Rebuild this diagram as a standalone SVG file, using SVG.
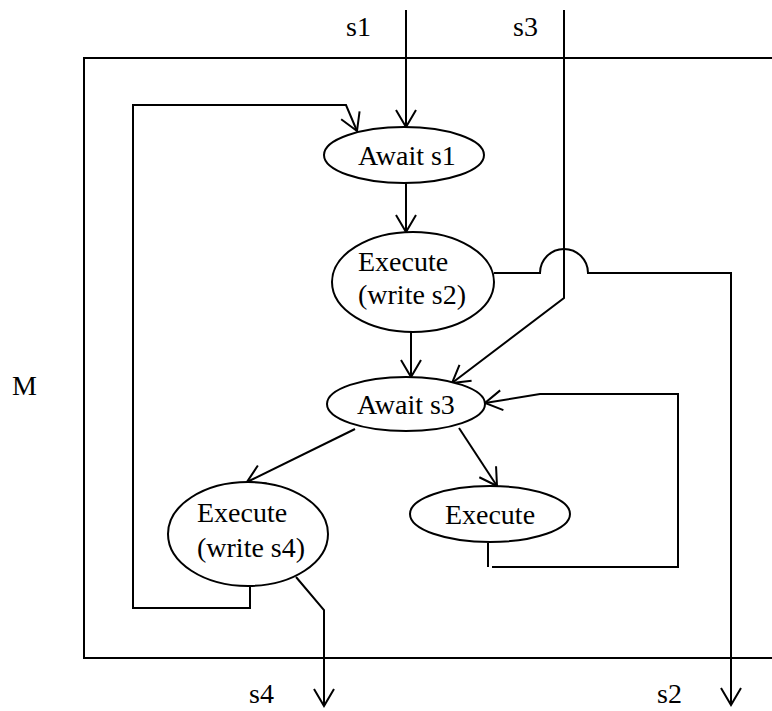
<svg xmlns="http://www.w3.org/2000/svg" width="772" height="711" viewBox="0 0 772 711">
<style>
.ln{fill:none;stroke:#000;stroke-width:2;stroke-linejoin:miter}
.nd{fill:#fff;stroke:#000;stroke-width:2}
text{font-family:"Liberation Serif","Times New Roman",serif;font-size:28px;fill:#000}
</style>
<defs>
<marker id="ah" markerUnits="userSpaceOnUse" markerWidth="24" markerHeight="24" viewBox="-20 -12 22 24" refX="0" refY="0" orient="auto">
<path d="M-17,-10 L0,0 L-17,10" fill="none" stroke="#000" stroke-width="2"/>
</marker>
</defs>
<rect width="772" height="711" fill="#fff"/>
<g id="module">
<path class="ln" d="M772,58 H84 V658 H772"/>
<text x="12" y="395">M</text>
</g>
<g id="labels">
<text x="346" y="36">s1</text>
<text x="513" y="36">s3</text>
<text x="249" y="703">s4</text>
<text x="657" y="703">s2</text>
</g>
<g id="connectors">
<path class="ln" d="M406,10 V127" marker-end="url(#ah)"/>
<path class="ln" d="M564,10 V298 L452,383" marker-end="url(#ah)"/>
<path class="ln" d="M406,183 V232" marker-end="url(#ah)"/>
<path class="ln" d="M411,332 V377" marker-end="url(#ah)"/>
<path class="ln" d="M494,273 H540 A24,24 0 0 1 588,273 H731 V705" marker-end="url(#ah)"/>
<path class="ln" d="M355,429 L247,482" marker-end="url(#ah)"/>
<path class="ln" d="M459,428 L497,486" marker-end="url(#ah)"/>
<path class="ln" d="M488,543 V567"/>
<path class="ln" d="M492,567 H678 V394 H540 L485,403" marker-end="url(#ah)"/>
<path class="ln" d="M250,586 V608 H133 V105 H346 L357,131" marker-end="url(#ah)"/>
<path class="ln" d="M296,577 L324,610 V706" marker-end="url(#ah)"/>
</g>
<g id="await-s1">
<ellipse class="nd" cx="404" cy="155" rx="80" ry="28"/>
<text x="407" y="165" text-anchor="middle">Await s1</text>
</g>
<g id="execute-s2">
<ellipse class="nd" cx="413" cy="282" rx="81" ry="50"/>
<text x="358" y="271">Execute</text>
<text x="358" y="304">(write s2)</text>
</g>
<g id="await-s3">
<ellipse class="nd" cx="406" cy="404" rx="79" ry="27"/>
<text x="406" y="414" text-anchor="middle">Await s3</text>
</g>
<g id="execute-s4">
<ellipse class="nd" cx="248" cy="534" rx="80" ry="52"/>
<text x="197" y="522">Execute</text>
<text x="197" y="557">(write s4)</text>
</g>
<g id="execute">
<ellipse class="nd" cx="490" cy="514" rx="80" ry="28"/>
<text x="490" y="524" text-anchor="middle">Execute</text>
</g>
</svg>
